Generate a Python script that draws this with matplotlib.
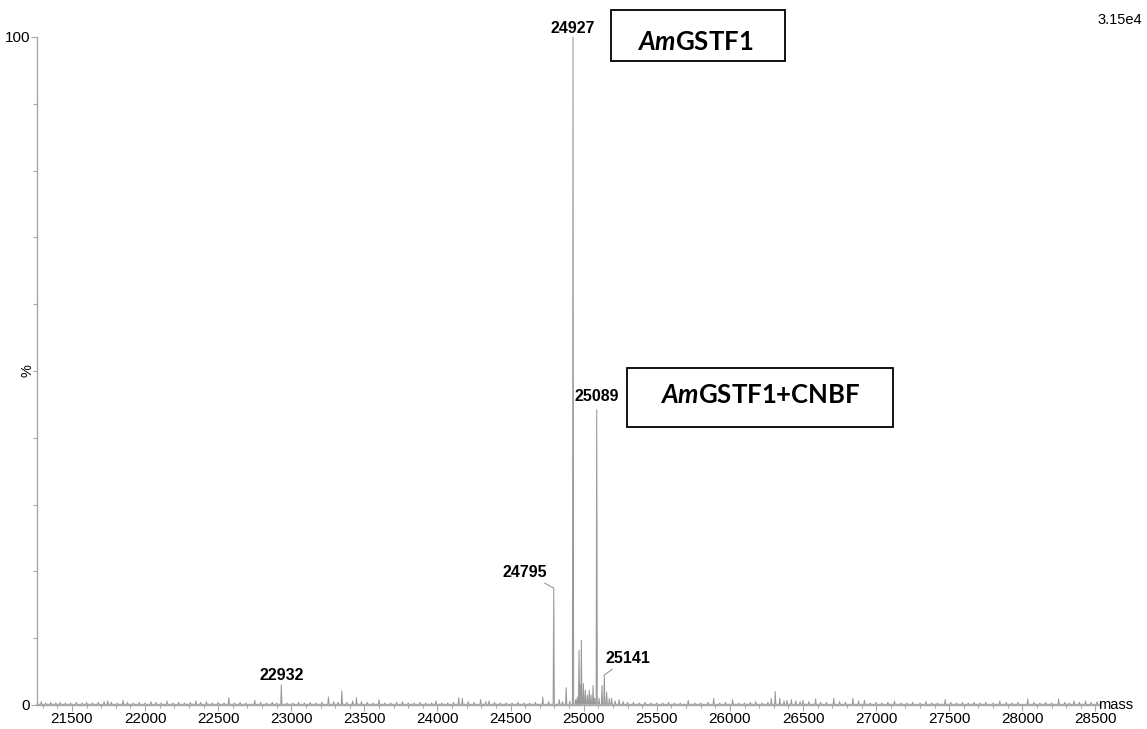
import matplotlib
matplotlib.use("Agg")
import matplotlib.pyplot as plt
from matplotlib.patches import Rectangle
from matplotlib.ticker import MultipleLocator, FixedLocator

plt.rcParams['font.family'] = ['Liberation Sans', 'DejaVu Sans']
plt.rcParams['mathtext.fontset'] = 'custom'
plt.rcParams['mathtext.it'] = 'Lato:italic:bold'
plt.rcParams['mathtext.rm'] = 'Lato:bold'

# Labelled deconvoluted masses (Da) and relative intensity (%)
label_mass = [22932, 24795, 24927, 25089, 25141]
label_int = [3.0, 17.5, 100.0, 44.2, 4.5]

# Smaller peaks and baseline noise (mass, %)
minor_peaks = [
    (21290, 0.5), (21320, 0.3), (21355, 0.4), (21390, 0.3), (21420, 0.4), (21455, 0.3),
    (21490, 0.3), (21530, 0.4), (21570, 0.3), (21600, 0.4), (21640, 0.3), (21680, 0.4),
    (21720, 0.5), (21745, 0.6), (21770, 0.4), (21810, 0.3), (21850, 0.7), (21880, 0.4),
    (21920, 0.3), (21960, 0.4), (22000, 0.3), (22040, 0.5), (22075, 0.4), (22110, 0.3),
    (22150, 0.6), (22190, 0.3), (22230, 0.4), (22270, 0.3), (22310, 0.4), (22347, 0.6),
    (22380, 0.4), (22420, 0.5), (22460, 0.3), (22500, 0.4), (22540, 0.3), (22573, 1.1),
    (22610, 0.3), (22650, 0.4), (22690, 0.3), (22750, 0.7), (22790, 0.4), (22830, 0.3),
    (22870, 0.4), (22900, 0.3), (22970, 0.3), (23010, 0.3), (23050, 0.4), (23090, 0.3),
    (23130, 0.4), (23170, 0.3), (23210, 0.4), (23254, 1.2), (23290, 0.5), (23320, 0.4),
    (23346, 2.1), (23380, 0.4), (23420, 0.6), (23446, 1.1), (23480, 0.5), (23520, 0.4),
    (23560, 0.3), (23600, 0.8), (23640, 0.3), (23680, 0.3), (23720, 0.4), (23760, 0.5),
    (23800, 0.3), (23840, 0.3), (23880, 0.4), (23920, 0.3), (23960, 0.3), (23990, 0.6),
    (24030, 0.3), (24070, 0.3), (24110, 0.4), (24145, 1.1), (24170, 1.0), (24210, 0.5),
    (24250, 0.4), (24295, 0.8), (24330, 0.5), (24352, 0.6), (24390, 0.4), (24430, 0.3),
    (24470, 0.3), (24510, 0.3), (24550, 0.4), (24590, 0.3), (24630, 0.3), (24670, 0.4),
    (24720, 1.2), (24760, 0.5), (24833, 0.8), (24855, 0.5), (24880, 2.6), (24905, 0.6),
    (24945, 0.8), (24956, 1.2), (24968, 8.2), (24976, 3.0), (24984, 9.7), (24998, 3.2),
    (25011, 2.2), (25025, 1.5), (25038, 2.2), (25050, 1.5), (25064, 2.9), (25075, 1.0),
    (25105, 1.0), (25125, 2.9), (25157, 1.9), (25175, 1.0), (25191, 1.0), (25215, 0.6),
    (25242, 0.8), (25270, 0.5), (25300, 0.4), (25340, 0.4), (25380, 0.3), (25420, 0.4),
    (25460, 0.3), (25500, 0.3), (25540, 0.3), (25580, 0.4), (25620, 0.3), (25660, 0.3),
    (25715, 0.7), (25760, 0.3), (25800, 0.3), (25850, 0.4), (25889, 1.0), (25930, 0.3),
    (25970, 0.4), (26018, 0.8), (26060, 0.3), (26100, 0.3), (26140, 0.4), (26176, 0.5),
    (26220, 0.3), (26260, 0.4), (26283, 1.0), (26310, 2.0), (26341, 1.0), (26370, 0.6),
    (26390, 0.7), (26420, 0.8), (26450, 0.6), (26480, 0.5), (26500, 0.7), (26540, 0.5),
    (26586, 0.9), (26620, 0.4), (26660, 0.4), (26710, 1.0), (26750, 0.5), (26790, 0.4),
    (26841, 1.0), (26880, 0.6), (26920, 0.7), (26960, 0.3), (27000, 0.4), (27040, 0.3),
    (27080, 0.4), (27125, 0.6), (27170, 0.3), (27210, 0.3), (27250, 0.4), (27300, 0.3),
    (27340, 0.5), (27380, 0.3), (27420, 0.3), (27472, 0.8), (27510, 0.4), (27550, 0.3),
    (27590, 0.4), (27630, 0.3), (27670, 0.4), (27710, 0.3), (27750, 0.4), (27800, 0.3),
    (27846, 0.6), (27890, 0.4), (27930, 0.3), (27970, 0.4), (28037, 0.9), (28080, 0.4),
    (28120, 0.3), (28160, 0.4), (28200, 0.3), (28248, 0.9), (28290, 0.4), (28320, 0.3),
    (28353, 0.6), (28390, 0.4), (28432, 0.6), (28470, 0.4), (28511, 0.5),
]
minor_mass = [m for m, _ in minor_peaks]
minor_int = [h for _, h in minor_peaks]

x_ticks = list(range(21500, 29000, 500))
x_range = (21261, 28531)
full_scale = "3.15e4"

# Build a stick-like profile trace from the peak list
peaks = sorted(zip(label_mass + minor_mass, label_int + minor_int))
half_width = 4.0
base = 0.1
trace_x, trace_y = [x_range[0]], [base]
for m, h in peaks:
    trace_x += [m - half_width, m, m + half_width]
    trace_y += [base, h, base]
trace_x.append(x_range[1])
trace_y.append(base)

W, H = 1147, 729
fig = plt.figure(figsize=(W / 100, H / 100), dpi=100)
ax = fig.add_axes([37 / W, 24 / H, (1100 - 37) / W, (705 - 37) / H])

axis_grey = '#a8a8a8'
ax.plot(trace_x, trace_y, color='#999999', lw=0.75, clip_on=False)

ax.set_xlim(*x_range)
ax.set_ylim(0, 100)
for s in ['top', 'right']:
    ax.spines[s].set_visible(False)
for s in ['left', 'bottom']:
    ax.spines[s].set_color(axis_grey)
    ax.spines[s].set_linewidth(1.0)

ax.xaxis.set_major_locator(FixedLocator(x_ticks))
ax.xaxis.set_minor_locator(MultipleLocator(100))
ax.yaxis.set_major_locator(FixedLocator([0, 100]))
ax.yaxis.set_minor_locator(MultipleLocator(10))
ax.tick_params(axis='x', which='major', length=4.3, width=0.8, color=axis_grey,
               labelsize=11, pad=1.0)
ax.tick_params(axis='x', which='minor', length=2.2, width=0.8, color=axis_grey)
ax.tick_params(axis='y', which='major', length=4.3, width=0.8, color=axis_grey,
               labelsize=11, pad=0.5)
ax.tick_params(axis='y', which='minor', length=2.8, width=0.8, color=axis_grey)
ax.set_yticklabels(['0', '100'])

ax.text(-9 / 1063, 0.5, '%', transform=ax.transAxes, rotation=90,
        ha='center', va='center', fontsize=10.5)
ax.text(1.0 + 16 / 1063, 0.0, 'mass', transform=ax.transAxes,
        ha='center', va='center', fontsize=10.5)
fig.text(1120 / W, 1 - 20 / H, full_scale, ha='center', va='center', fontsize=10.5)

# Peak labels
lbl = dict(fontsize=11.5, fontweight='bold', color='black')
leader = dict(arrowstyle='-', color='#999999', lw=0.8, shrinkA=1, shrinkB=0)
offsets = {22932: (0, 1.5), 24927: (0, 1), 25089: (0, 4)}
for m, h in zip(label_mass, label_int):
    if m in offsets:
        ax.annotate(str(m), xy=(m, h), xytext=offsets[m], textcoords='offset points',
                    ha='center', va='bottom', **lbl)
ax.annotate('24795', xy=(24795, 17.5), xytext=(-21, 11.5), textcoords='offset points',
            ha='center', va='center', arrowprops=leader, **lbl)
ax.annotate('25141', xy=(25141, 4.5), xytext=(17, 12), textcoords='offset points',
            ha='center', va='center', arrowprops=leader, **lbl)

# Species boxes
def species_box(x0, y0, x1, y1, tx, tbase, text):
    fig.add_artist(Rectangle((x0 / W, 1 - y1 / H), (x1 - x0) / W, (y1 - y0) / H,
                             transform=fig.transFigure, fill=False, ec='black', lw=1.3))
    fig.text(tx / W, 1 - tbase / H, text, ha='left', va='baseline',
             fontsize=18.5, family='Lato', fontweight='bold')

species_box(611, 10, 785, 61, 637, 50, r'$\mathit{Am}$GSTF1')
species_box(627, 368, 893, 427, 660, 403, r'$\mathit{Am}$GSTF1+CNBF')

fig.savefig('out.png', dpi=100)
